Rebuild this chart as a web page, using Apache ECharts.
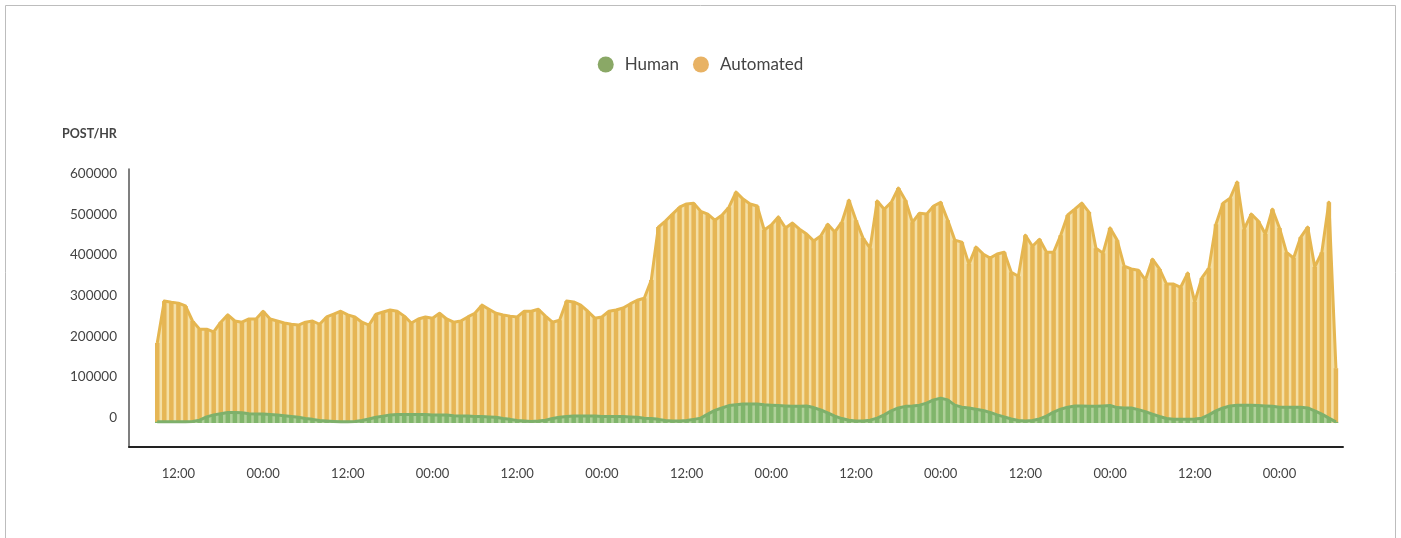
<!DOCTYPE html>
<html>
<head>
<meta charset="utf-8">
<script src="https://cdn.jsdelivr.net/npm/echarts@6/dist/echarts.min.js"></script>
<style>
  html, body { margin: 0; padding: 0; background: #fff; }
  #chart { width: 1401px; height: 538px; }
</style>
</head>
<body>
<div id="chart"></div>
<script>
// Hourly samples, first sample at 09:00
const startHour = 9;
const automated = [
  197000, 300000, 297000, 295000, 288000, 251000, 231000, 231000, 224000, 248000,
  266000, 251000, 248000, 256000, 256000, 275000, 256000, 251000, 246000, 243000,
  241000, 248000, 251000, 243000, 261000, 268000, 275000, 266000, 261000, 248000,
  241000, 268000, 273000, 278000, 275000, 263000, 246000, 256000, 261000, 258000,
  270000, 256000, 248000, 251000, 261000, 270000, 290000, 280000, 270000, 266000,
  263000, 261000, 275000, 275000, 280000, 263000, 248000, 253000, 300000, 298000,
  290000, 275000, 258000, 261000, 275000, 278000, 283000, 293000, 302000, 307000,
  352000, 482000, 497000, 514000, 531000, 539000, 541000, 521000, 514000, 499000,
  511000, 531000, 568000, 551000, 539000, 534000, 475000, 487000, 507000, 480000,
  492000, 477000, 465000, 448000, 460000, 489000, 470000, 494000, 548000, 499000,
  455000, 430000, 546000, 526000, 543000, 578000, 548000, 494000, 516000, 514000,
  534000, 543000, 499000, 450000, 445000, 391000, 433000, 416000, 406000, 416000,
  420000, 371000, 361000, 462000, 435000, 452000, 420000, 420000, 462000, 512000,
  526000, 541000, 519000, 430000, 418000, 480000, 450000, 386000, 379000, 376000,
  352000, 403000, 379000, 342000, 342000, 334000, 369000, 298000, 357000, 381000,
  489000, 541000, 553000, 593000, 477000, 514000, 497000, 465000, 526000, 480000,
  420000, 406000, 457000, 482000, 384000, 420000, 543000, 135000
];
const human = [
  3000, 3000, 3000, 3000, 3000, 4000, 7000, 15000, 20000, 23000,
  26000, 26000, 25000, 23000, 22000, 22000, 21000, 20000, 18000, 16000,
  14000, 11000, 9000, 6000, 5000, 4000, 3000, 3000, 4000, 6000,
  10000, 14000, 17000, 20000, 21000, 21000, 21000, 21000, 21000, 20000,
  20000, 20000, 18000, 17000, 17000, 16000, 16000, 15000, 14000, 11000,
  9000, 6000, 5000, 4000, 5000, 7000, 11000, 14000, 16000, 17000,
  17000, 17000, 17000, 16000, 16000, 16000, 16000, 15000, 14000, 12000,
  11000, 9000, 6000, 5000, 5000, 6000, 9000, 12000, 22000, 31000,
  37000, 43000, 45000, 47000, 47000, 47000, 45000, 44000, 43000, 42000,
  41000, 41000, 42000, 38000, 32000, 25000, 17000, 11000, 7000, 5000,
  5000, 7000, 12000, 20000, 30000, 37000, 41000, 42000, 44000, 49000,
  57000, 61000, 57000, 44000, 39000, 37000, 34000, 31000, 26000, 20000,
  15000, 10000, 6000, 5000, 6000, 10000, 17000, 27000, 34000, 39000,
  42000, 42000, 41000, 41000, 42000, 43000, 38000, 37000, 37000, 33000,
  28000, 22000, 16000, 11000, 9000, 9000, 9000, 10000, 12000, 20000,
  30000, 37000, 42000, 44000, 44000, 44000, 43000, 42000, 41000, 39000,
  39000, 39000, 39000, 37000, 30000, 22000, 12000, 3000
];
const yTickValues = [0, 100000, 200000, 300000, 400000, 500000, 600000];
const xTickHours = [3, 15, 27, 39, 51, 63, 75, 87, 99, 111, 123, 135, 147, 159];
const xTickLabels = ['12:00', '00:00', '12:00', '00:00', '12:00', '00:00', '12:00',
                     '00:00', '12:00', '00:00', '12:00', '00:00', '12:00', '00:00'];

const autoPts = automated.map((v, i) => [i, v]);
const humanPts = human.map((v, i) => [i, v]);

const FONT = 'Lato, "Open Sans", sans-serif';
const chart = echarts.init(document.getElementById('chart'), null, { renderer: 'canvas' });

chart.setOption({
  animation: false,
  backgroundColor: '#fff',
  graphic: [{
    type: 'rect',
    shape: { x: 5.5, y: 5.5, width: 1390, height: 545 },
    style: { fill: 'none', stroke: '#bdbdbd', lineWidth: 1 },
    silent: true
  }],
  title: {
    text: 'POST/HR',
    left: 57, top: 122,
    textStyle: { fontFamily: FONT, fontSize: 12.5, fontWeight: 'bold', color: '#444' }
  },
  legend: {
    top: 51, left: 'center',
    icon: 'circle',
    itemWidth: 16, itemHeight: 16, itemGap: 14,
    textStyle: { fontFamily: FONT, fontSize: 17, color: '#444', padding: [0, 0, 0, 6] },
    data: [
      { name: 'Human', itemStyle: { color: '#8AA866' } },
      { name: 'Automated', itemStyle: { color: '#E8B264' } }
    ]
  },
  grid: { left: 129, top: 169, width: 1214, height: 278, containLabel: false },
  xAxis: {
    type: 'value',
    min: -4, max: 168,
    splitLine: { show: false },
    axisLine: { show: true, onZero: false, lineStyle: { color: '#222', width: 2 } },
    axisTick: { show: false },
    axisLabel: {
      customValues: xTickHours,
      formatter: function (v) { return xTickLabels[xTickHours.indexOf(v)] || ''; },
      margin: 20,
      fontFamily: FONT, fontSize: 13, color: '#444'
    }
  },
  yAxis: {
    type: 'value',
    min: -59000, max: 625000,
    splitLine: { show: false },
    axisLine: { show: true, onZero: false, lineStyle: { color: '#555', width: 1.5 } },
    axisTick: { show: false },
    axisLabel: {
      customValues: yTickValues,
      formatter: function (v) { return String(v); },
      margin: 12,
      verticalAlign: 'bottom',
      lineHeight: 11,
      fontFamily: FONT, fontSize: 13.5, color: '#444'
    }
  },
  series: [
    {
      name: 'Automated', type: 'line', data: autoPts, z: 1,
      showSymbol: false, symbol: 'none',
      lineStyle: { width: 0, opacity: 0 },
      areaStyle: { color: '#F4DFA5', opacity: 1 }
    },
    {
      name: 'Automated', type: 'bar', data: autoPts, z: 2,
      barWidth: 4.5, barGap: '-100%',
      itemStyle: { color: '#E6B655' }
    },
    {
      name: 'Automated', type: 'line', data: autoPts, z: 3,
      showSymbol: false, symbol: 'none',
      lineStyle: { width: 3, color: '#E5B650', join: 'round' }
    },
    {
      name: 'Human', type: 'line', data: humanPts, z: 4,
      showSymbol: false, symbol: 'none',
      lineStyle: { width: 0, opacity: 0 },
      areaStyle: { color: '#AFD19A', opacity: 1 }
    },
    {
      name: 'Human', type: 'bar', data: humanPts, z: 5,
      barWidth: 4.5, barGap: '-100%',
      itemStyle: { color: '#80B56B' }
    },
    {
      name: 'Human', type: 'line', data: humanPts, z: 6,
      showSymbol: false, symbol: 'none',
      lineStyle: { width: 3, color: '#7EB06B', join: 'round' }
    }
  ]
});
</script>
</body>
</html>
